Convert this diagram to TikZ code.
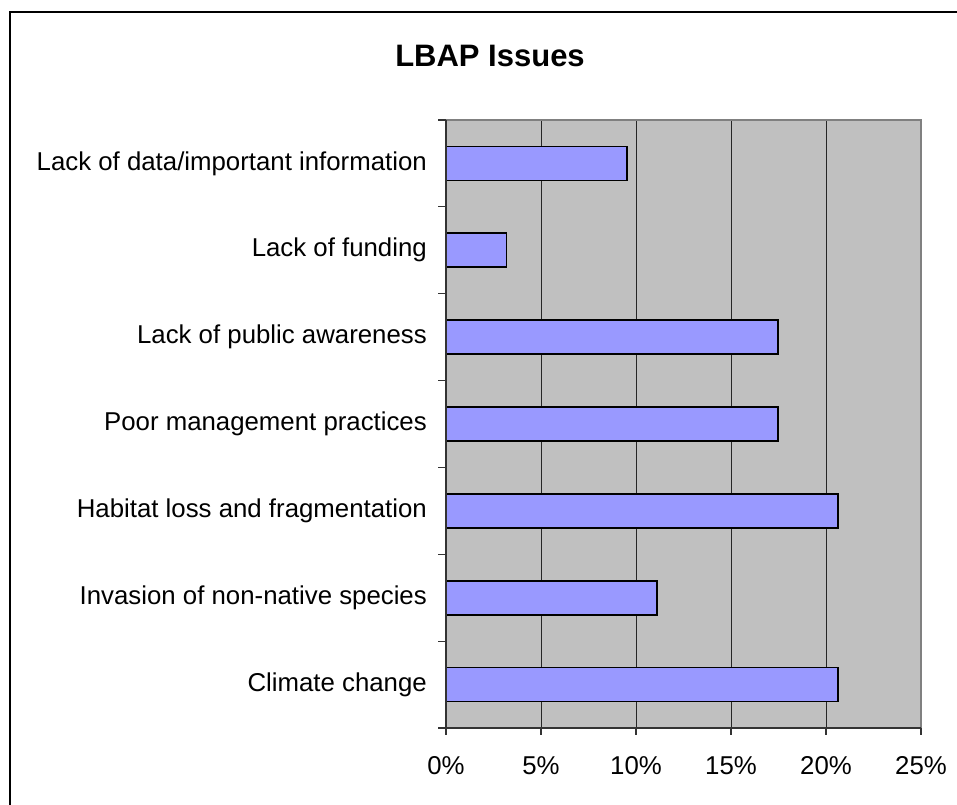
\documentclass[tikz,border=0pt]{standalone}
\usepackage{fontspec}
\setmainfont{Liberation Sans}
\definecolor{plotbg}{HTML}{C0C0C0}
\definecolor{barfill}{HTML}{9999FF}
\definecolor{bordergray}{HTML}{808080}
\begin{document}
\begin{tikzpicture}[x=1pt,y=-1pt,
  catlabel/.style={anchor=east,inner sep=0pt,font=\fontsize{25.8}{30}\selectfont},
  ticklabel/.style={anchor=center,inner sep=0pt,font=\fontsize{25.8}{30}\selectfont},
  titlelabel/.style={anchor=base,inner sep=0pt,font=\fontsize{31}{36}\selectfont\bfseries},
  gridline/.style={draw=black!85,line width=1pt},
  barbox/.style={fill=barfill,draw=black,line width=1.6pt},
  axisline/.style={draw=black!80,line width=1.2pt},
  framebox/.style={draw=black,line width=2pt}]
\useasboundingbox (0,0) rectangle (957,804);
\begin{scope}
\clip (0,0) rectangle (957,804);
\draw[framebox] (9.5,11.5) rectangle (970,820);
\end{scope}
% plot area
\def\L{446}\def\R{921}\def\T{120}\def\B{728}
\fill[plotbg] (\L,\T) rectangle (\R,\B);
\foreach \i in {1,2,3,4}{
  \draw[gridline] ({\L+95*\i},\T) -- ({\L+95*\i},\B);
}
\draw[draw=bordergray,line width=1.6pt] (\L,\T) -- (\R,\T) -- (\R,\B);
% bars: values n/63
\foreach \n [count=\k from 0] in {6,2,11,11,13,7,13}{
  \pgfmathsetmacro{\cy}{\T+86.857*(\k+0.5)}
  \pgfmathsetmacro{\xe}{\L+30.1587*\n}
  \draw[barbox] (\L,{\cy-17}) rectangle (\xe,{\cy+17});
}
% axes
\draw[axisline] (\L,\T) -- (\L,\B) -- (\R,\B);
\foreach \k in {0,...,7}{
  \draw[axisline] (438,{\T+86.857*\k}) -- (\L,{\T+86.857*\k});
}
\foreach \i in {0,...,5}{
  \draw[axisline] ({\L+95*\i},\B) -- ({\L+95*\i},735);
}
% category labels
\foreach \txt [count=\k from 0] in {Lack of data/important information,Lack of funding,Lack of public awareness,Poor management practices,Habitat loss and fragmentation,Invasion of non-native species,Climate change}{
  \node[catlabel] (cat\k) at (427,{\T+86.857*(\k+0.5)}) {\txt};
}
% tick labels
\foreach \i in {0,...,5}{
  \pgfmathtruncatemacro{\pc}{5*\i}
  \node[ticklabel] (tick\i) at ({\L+95*\i},766) {\pc\%};
}
\node[titlelabel] (title) at (490,66.5) {LBAP Issues};
\end{tikzpicture}
\end{document}
